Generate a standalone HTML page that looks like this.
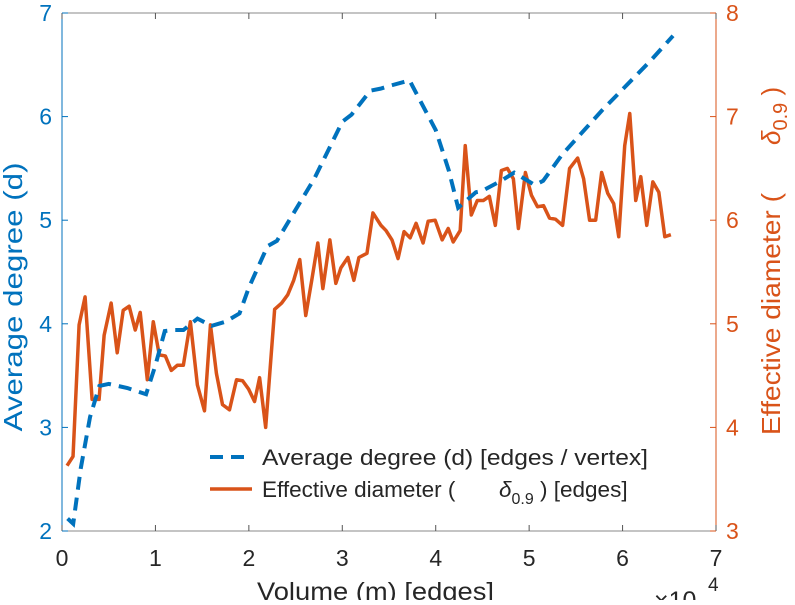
<!DOCTYPE html>
<html><head><meta charset="utf-8"><style>
body{margin:0;background:#fff;}
svg{font-family:"Liberation Sans",sans-serif;}
</style></head><body>
<svg id="chart" width="795" height="600" xmlns="http://www.w3.org/2000/svg"></svg>
<script>
const xTicks=[0,1,2,3,4,5,6,7];
const leftTicks=[2,3,4,5,6,7];
const rightTicks=[3,4,5,6,7,8];
const degX=[0.6,1.2,2,3,4,5,7,9,10,11,12,13,14.5,16,17.5,19,20,22,23,25,27,30,31,33,34.1,35.2,37.2,37.6,40,41.4,42.4,44.3,44.9,47,48.4,50.6,51.5,53.5,57.8,63,65.4];
const degY=[2.12,2.07,2.6,3.1,3.4,3.42,3.38,3.32,3.6,3.93,3.94,3.94,4.05,3.98,4.02,4.1,4.35,4.75,4.8,5.1,5.4,5.95,6.02,6.25,6.27,6.3,6.35,6.28,5.87,5.48,5.12,5.27,5.28,5.38,5.46,5.34,5.38,5.63,6.06,6.54,6.78];
const diaX=[0.54,1.18,1.83,2.47,3.22,3.97,4.51,5.26,5.91,6.55,7.19,7.84,8.37,9.13,9.77,10.41,11.06,11.70,12.35,12.99,13.74,14.49,15.25,15.89,16.53,17.18,17.93,18.68,19.33,19.97,20.61,21.15,21.80,22.76,23.51,24.16,24.80,25.45,26.09,26.73,27.38,27.92,28.67,29.31,29.85,30.60,31.24,31.78,32.64,33.28,34.14,34.68,35.32,35.97,36.61,37.26,37.90,38.65,39.19,39.94,40.69,41.34,41.87,42.62,43.16,43.81,44.45,45.09,45.74,46.38,47.03,47.67,48.31,48.85,49.60,50.25,50.89,51.54,52.18,52.82,53.58,54.33,55.19,55.83,56.47,57.12,57.76,58.41,59.05,59.59,60.23,60.77,61.41,61.95,62.59,63.24,63.88,64.52,65.17];
const diaY=[3.63,3.72,4.99,5.26,4.27,4.27,4.89,5.20,4.72,5.13,5.17,4.94,5.11,4.46,5.02,4.70,4.69,4.55,4.60,4.60,5.02,4.41,4.16,4.99,4.52,4.22,4.17,4.46,4.45,4.37,4.25,4.48,4.00,5.14,5.20,5.28,5.42,5.62,5.08,5.42,5.78,5.34,5.81,5.39,5.54,5.64,5.42,5.64,5.68,6.07,5.95,5.90,5.81,5.63,5.89,5.83,5.97,5.78,5.99,6.00,5.81,5.92,5.79,5.90,6.72,6.05,6.19,6.19,6.23,5.95,6.48,6.50,6.40,5.92,6.46,6.24,6.13,6.14,6.02,6.01,5.95,6.50,6.60,6.40,6.00,6.00,6.46,6.26,6.16,5.84,6.72,7.03,6.19,6.42,5.95,6.37,6.27,5.84,5.86];

const L=62,R=716,T=13,B=531;
const BLUE="#0072BD",ORANGE="#D95319",GRAY="#262626";
const sx=v=>L+(v/70)*(R-L);
const syL=v=>B-(v-2)/5*(B-T);
const syR=v=>B-(v-3)/5*(B-T);
const svg=document.getElementById('chart');
function mk(tag,attrs,text){const e=document.createElementNS("http://www.w3.org/2000/svg",tag);for(const k in attrs)e.setAttribute(k,attrs[k]);if(text!==undefined)e.textContent=text;svg.appendChild(e);return e;}
function sub(parent,txt,attrs){const t=document.createElementNS("http://www.w3.org/2000/svg","tspan");for(const k in attrs)t.setAttribute(k,attrs[k]);t.textContent=txt;parent.appendChild(t);return t;}

let e;
e=mk('line',{x1:L,y1:T,x2:R,y2:T,stroke:'#888',"stroke-width":1});


e=mk('line',{x1:L,y1:B,x2:R,y2:B,stroke:'#888',"stroke-width":1});


e=mk('line',{x1:L,y1:T,x2:L,y2:B,stroke:BLUE,"stroke-width":1});


e=mk('line',{x1:R,y1:T,x2:R,y2:B,stroke:ORANGE,"stroke-width":1});



xTicks.forEach(t=>{
  const x=sx(t*10);
  e=mk('line',{x1:x,y1:B,x2:x,y2:B-6,stroke:'#555'});
  
  
  e=mk('line',{x1:x,y1:T,x2:x,y2:T+6,stroke:'#555'});
  
  
  e=mk('text',{x:x,y:B+35,"text-anchor":"middle","font-size":23,fill:GRAY},String(t));
  
  
});
leftTicks.forEach(t=>{
  const y=syL(t);
  e=mk('line',{x1:L,y1:y,x2:L+6,y2:y,stroke:BLUE});
  
  
  e=mk('text',{x:L-10,y:y+8,"text-anchor":"end","font-size":23,fill:BLUE},String(t));
  
  
});
rightTicks.forEach(t=>{
  const y=syR(t);
  e=mk('line',{x1:R,y1:y,x2:R-6,y2:y,stroke:ORANGE});
  
  
  e=mk('text',{x:R+10,y:y+8,"text-anchor":"start","font-size":23,fill:ORANGE},String(t));
  
  
});

e=mk('polyline',{points:diaX.map((x,i)=>sx(x)+','+syR(diaY[i])).join(' '),fill:'none',stroke:ORANGE,"stroke-width":3.5,"stroke-linejoin":"round"});


e=mk('polyline',{points:degX.map((x,i)=>sx(x)+','+syL(degY[i])).join(' '),fill:'none',stroke:BLUE,"stroke-width":4,"stroke-dasharray":"13,8"});



e=mk('text',{x:3,y:297,transform:'rotate(-90 3 297)',"text-anchor":"middle","dominant-baseline":"hanging","font-size":26,fill:BLUE,textLength:269,lengthAdjust:"spacingAndGlyphs"},'Average degree (d)');


e=mk('text',{x:617,y:272,transform:'rotate(-90 780 272)',"font-size":26,fill:ORANGE},'');
sub(e,'Effective diameter (',{textLength:242,lengthAdjust:"spacingAndGlyphs"});
sub(e,'δ',{x:907,"font-style":"italic"});sub(e,'0.9',{"font-size":20,dy:7});sub(e,' )',{dy:-7});


e=mk('text',{x:257,y:600,"font-size":25,fill:GRAY,textLength:237,lengthAdjust:"spacingAndGlyphs"},'Volume (m) [edges]');


e=mk('text',{x:654,y:609,"font-size":25,fill:GRAY},'×10');


e=mk('text',{x:708,y:591,"font-size":19,fill:GRAY},'4');



e=mk('line',{x1:210,y1:457,x2:252,y2:457,stroke:BLUE,"stroke-width":4,"stroke-dasharray":"13,8"});


e=mk('text',{x:262,y:465,"font-size":22,fill:GRAY,textLength:386,lengthAdjust:"spacingAndGlyphs"},'Average degree (d) [edges / vertex]');


e=mk('line',{x1:210,y1:489,x2:252,y2:489,stroke:ORANGE,"stroke-width":3.5});


e=mk('text',{x:262,y:497,"font-size":22.5,fill:GRAY},'Effective diameter (');
sub(e,'δ',{x:499,"font-style":"italic"});sub(e,'0.9',{"font-size":16,dy:7});sub(e,' ) [edges]',{dy:-7});


</script>
</body></html>
